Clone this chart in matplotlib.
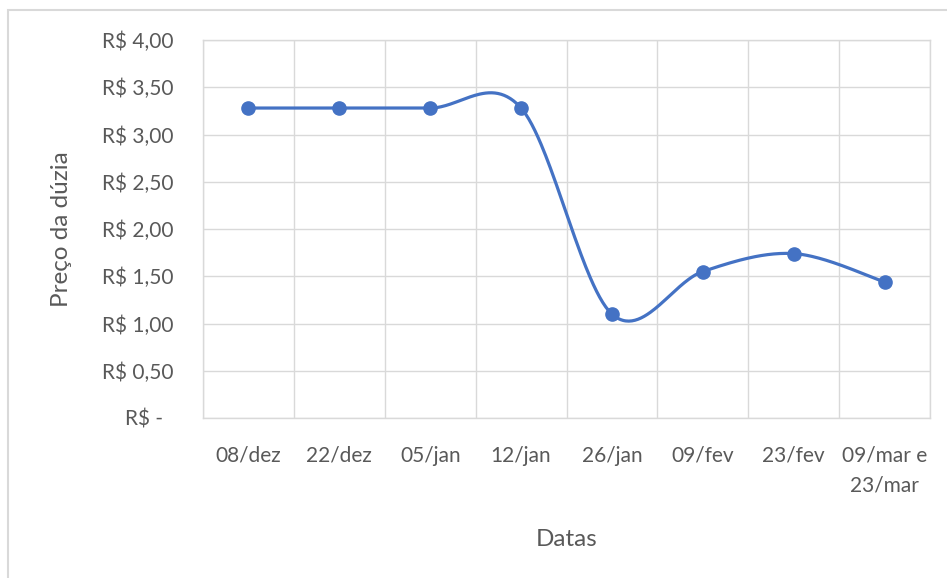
import numpy as np
import matplotlib
matplotlib.use("Agg")
import matplotlib.pyplot as plt
from matplotlib.patches import Rectangle
from matplotlib.ticker import FuncFormatter, MultipleLocator

# price per dozen on each survey date
dates = ["08/dez", "22/dez", "05/jan", "12/jan", "26/jan", "09/fev", "23/fev", "09/mar e\n23/mar"]
prices = [3.28, 3.28, 3.28, 3.28, 1.10, 1.55, 1.74, 1.44]

LINE = "#4472C4"
GRID = "#D9D9D9"
TEXT = "#595959"

plt.rcParams["font.family"] = ["Lato", "DejaVu Sans"]


def smooth_curve(xs, ys, n=60):
    """Catmull-Rom style cubic Bezier through every point (spreadsheet 'smoothed line')."""
    px = np.asarray(xs, float)
    py = np.asarray(ys, float)
    outx, outy = [], []
    t = np.linspace(0, 1, n)
    for i in range(len(px) - 1):
        i0, i3 = max(i - 1, 0), min(i + 2, len(px) - 1)
        p1 = np.array([px[i], py[i]])
        p2 = np.array([px[i + 1], py[i + 1]])
        p0 = np.array([px[i0], py[i0]])
        p3 = np.array([px[i3], py[i3]])
        c1 = p1 + (p2 - p0) / 6
        c2 = p2 - (p3 - p1) / 6
        b = ((1 - t) ** 3)[:, None] * p1 + (3 * (1 - t) ** 2 * t)[:, None] * c1 \
            + (3 * (1 - t) * t ** 2)[:, None] * c2 + (t ** 3)[:, None] * p2
        outx.extend(b[:, 0])
        outy.extend(b[:, 1])
    return np.array(outx), np.array(outy)


def brl(v, _pos):
    if abs(v) < 1e-9:
        return "R$ -  "
    return "R$ " + f"{v:.2f}".replace(".", ",")


fig = plt.figure(figsize=(9.47, 5.78), dpi=100)
fig.patches.append(Rectangle((8 / 947, -0.1), 1.1, 1 - 10 / 578 + 0.1, transform=fig.transFigure,
                             fill=False, edgecolor=GRID, linewidth=1.5))
ax = fig.add_axes([203 / 947, 1 - 418 / 578, (930 - 203) / 947, (418 - 40) / 578])

x = np.arange(len(dates))
sx, sy = smooth_curve(x, prices)
ax.plot(sx, sy, color=LINE, linewidth=2.3, solid_capstyle="round", zorder=3)
ax.plot(x, prices, "o", color=LINE, markersize=9.5, zorder=4)

ax.set_xlim(-0.5, len(dates) - 0.5)
ax.set_ylim(0, 4)
ax.yaxis.set_major_locator(MultipleLocator(0.5))
ax.yaxis.set_major_formatter(FuncFormatter(brl))
ax.set_xticks(x)
ax.set_xticklabels(dates, linespacing=1.6)
ax.set_xticks(np.arange(len(dates) + 1) - 0.5, minor=True)

ax.grid(True, axis="y", color=GRID, linewidth=1)
ax.grid(True, axis="x", which="minor", color=GRID, linewidth=1)
ax.set_axisbelow(True)
for s in ax.spines.values():
    s.set_color(GRID)
    s.set_linewidth(1)
ax.tick_params(which="both", length=0)
ax.tick_params(axis="y", pad=21, labelsize=15, labelcolor=TEXT)
ax.tick_params(axis="x", pad=20, labelsize=15, labelcolor=TEXT)

ax.set_ylabel("Preço da dúzia", fontsize=17.5, color=TEXT, labelpad=22)
ax.set_xlabel("Datas", fontsize=17.5, color=TEXT, labelpad=24)

fig.savefig("out.png", dpi=100)
